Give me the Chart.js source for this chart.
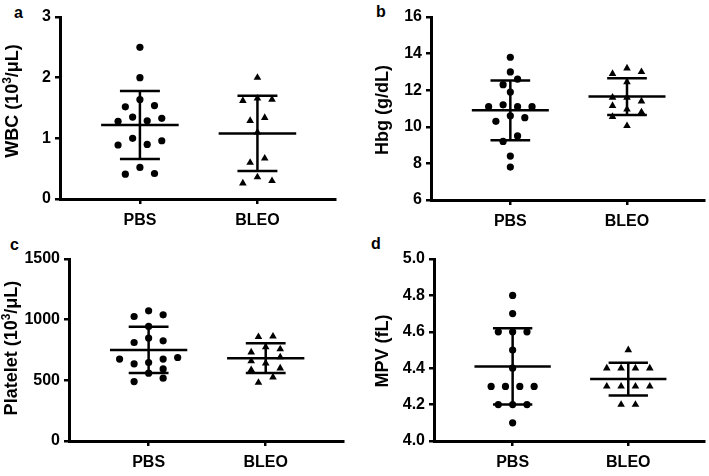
<!DOCTYPE html>
<html>
<head>
<meta charset="utf-8">
<script src="https://cdn.jsdelivr.net/npm/chart.js@4/dist/chart.umd.min.js"></script>
<style>
  html, body { margin: 0; padding: 0; background: #fff; }
  body { width: 709px; height: 476px; position: relative; overflow: hidden; font-family: "Liberation Sans", Arial, sans-serif; }
  .panel { position: absolute; }
  .lbl { position: absolute; font-weight: bold; font-size: 16px; line-height: 16px; color: #000; }
  .ytitle { position: absolute; font-weight: bold; font-size: 18px; line-height: 20px; color: #000; white-space: nowrap;
            transform: translate(-50%, -50%) rotate(-90deg); }
  .ytitle sup { font-size: 12px; line-height: 0; vertical-align: 0.55em; }
</style>
</head>
<body>
<div class="lbl" style="left:14px;top:5px">a</div>
<div class="lbl" style="left:376px;top:4px">b</div>
<div class="lbl" style="left:10px;top:237px">c</div>
<div class="lbl" style="left:371px;top:236px">d</div>
<div class="panel" style="left:0;top:0"><canvas id="ca" width="340" height="233"></canvas></div>
<div class="panel" style="left:354px;top:0"><canvas id="cb" width="355" height="234"></canvas></div>
<div class="panel" style="left:0;top:240px"><canvas id="cc" width="348" height="235"></canvas></div>
<div class="panel" style="left:354px;top:240px"><canvas id="cd" width="355" height="235"></canvas></div>
<div class="ytitle" style="left:12px;top:101px">WBC (10<sup>3</sup>/μL)</div>
<div class="ytitle" style="left:382px;top:110px">Hbg (g/dL)</div>
<div class="ytitle" style="left:11px;top:348px">Platelet (10<sup>3</sup>/μL)</div>
<div class="ytitle" style="left:382px;top:351px">MPV (fL)</div>
<script>
// ---------------- data ----------------
const categories = ['PBS', 'BLEO'];

// a: WBC (10^3/uL)
const wbcTicks = [0, 1, 2, 3];
const wbcPBS  = [2.5, 2.0, 1.64, 1.52, 1.54, 1.28, 1.35, 1.29, 1.33, 1.0, 0.89, 0.9, 0.96, 0.52, 0.41, 0.42];
const wbcBLEO = [2.0, 1.62, 1.66, 1.64, 1.29, 1.34, 1.1, 0.60, 0.67, 0.26, 0.36, 0.30];
const wbcMean = [1.22, 1.08];
const wbcSD   = [0.56, 0.62];

// b: Hbg (g/dL)
const hbgTicks = [6, 8, 10, 12, 14, 16];
const hbgPBS  = [13.8, 13.0, 12.6, 12.3, 11.9, 11.1, 11.2, 11.1, 11.1, 10.6, 10.3, 10.5, 9.5, 9.2, 8.4, 7.8];
const hbgBLEO = [12.9, 13.2, 13.0, 12.45, 11.6, 11.6, 11.15, 11.4, 10.95, 10.55, 10.8, 10.05];
const hbgMean = [10.9, 11.65];
const hbgSD   = [1.63, 1.0];

// c: Platelet (10^3/uL)
const pltTicks = [0, 500, 1000, 1500];
const pltPBS  = [1073, 1026, 1040, 944, 848, 812, 826, 675, 688, 636, 646, 675, 594, 559, 490, 518];
const pltBLEO = [858, 862, 774, 732, 757, 658, 691, 641, 586, 600, 526, 481];
const pltMean = [751, 683];
const pltSD   = [191, 123];

// d: MPV (fL)
const mpvTicks = [4.0, 4.2, 4.4, 4.6, 4.8, 5.0];
const mpvPBS  = [4.8, 4.7, 4.6, 4.6, 4.6, 4.5, 4.4, 4.3, 4.3, 4.3, 4.3, 4.2, 4.2, 4.2, 4.1];
const mpvBLEO = [4.5, 4.4, 4.4, 4.4, 4.4, 4.3, 4.3, 4.3, 4.3, 4.2, 4.2];
const mpvMean = [4.41, 4.34];
const mpvSD   = [0.21, 0.09];

// horizontal scatter column of each dot (dot-plot spreading as in the figure)
const wbcPBSCol  = [0, 0, 0, -2, 2, -3, -1, 1, 3, -1, -3, 1, 3, 0, -2, 2];
const wbcBLEOCol = [0, -2, 0, 2, -1, 1, 0, -1, 1, -2, 0, 2];
const hbgPBSCol  = [0, 0, 1, -1, 0, -3, -1, 1, 3, 0, -2, 2, 1, -1, 0, 0];
const hbgBLEOCol = [-2, 0, 2, 0, -2, 0, -2, 2, 0, -2, 2, 0];
const pltPBSCol  = [0, -2, 2, 0, 0, -2, 2, -4, 4, -2, 0, 2, 2, 0, -2, 2];
const pltBLEOCol = [-1, 1, 0, -2, 2, -2, 2, 0, -2, 2, 1, -1];
const mpvPBSCol  = [0, 0, -2, 0, 2, 0, 0, -3, -1, 1, 3, -2, 0, 2, 0];
const mpvBLEOCol = [0, -3, -1, 1, 3, -3, -1, 1, 3, -1, 1];

// ---------------- drawing ----------------
const FONT = '"Liberation Sans", Arial, sans-serif';
const SLOT = 0.062, MEAN_HALF = 0.33, CAP_HALF = 0.17;

function seg(x1, y1, x2, y2) {
  return { type: 'scatter', showLine: true, data: [{x: x1, y: y1}, {x: x2, y: y2}],
           borderColor: '#000', borderWidth: 2.5, pointRadius: 0, pointHoverRadius: 0, fill: false, order: 1 };
}

function build(id, p) {
  const ds = [];
  [p.pbs, p.bleo].forEach((vals, g) => {
    const cols = g === 0 ? p.pbsCol : p.bleoCol;
    ds.push({ type: 'scatter', order: 0,
      data: vals.map((v, i) => ({ x: g + 1 + cols[i] * SLOT, y: v })),
      pointStyle: g === 0 ? 'circle' : 'triangle', pointRadius: g === 0 ? 3.6 : 4.4,
      backgroundColor: '#000', borderColor: '#000', borderWidth: 0 });
    const m = p.mean[g], s = p.sd[g], c = g + 1;
    ds.push(seg(c - MEAN_HALF, m, c + MEAN_HALF, m));
    ds.push(seg(c - CAP_HALF, m + s, c + CAP_HALF, m + s));
    ds.push(seg(c - CAP_HALF, m - s, c + CAP_HALF, m - s));
    ds.push(seg(c, m - s, c, m + s));
  });
  const tickFont = { family: FONT, size: 16, weight: 'bold' };
  const grid = { display: true, drawOnChartArea: false, drawTicks: true, tickLength: 5, color: '#000', lineWidth: 2.5 };
  const border = { display: true, color: '#000', width: 3 };
  new Chart(document.getElementById(id), {
    type: 'scatter',
    data: { datasets: ds },
    options: {
      responsive: false, animation: false, devicePixelRatio: 1,
      layout: { padding: { top: p.padTop, right: p.padRight, bottom: 0, left: 0 } },
      plugins: { legend: { display: false }, tooltip: { enabled: false } },
      scales: {
        x: { type: 'linear', min: 0.32, max: 2.66,
             afterBuildTicks: s => { s.ticks = categories.map((c, i) => ({ value: i + 1 })); },
             afterFit: s => { s.height = 34; },
             ticks: { callback: v => categories[Math.round(v) - 1], color: '#000', font: tickFont, padding: 7, maxRotation: 0, autoSkip: false },
             grid: grid, border: border },
        y: { type: 'linear', min: p.ticks[0], max: p.ticks[p.ticks.length - 1],
             afterBuildTicks: s => { s.ticks = p.ticks.map(v => ({ value: v })); },
             afterFit: s => { s.width = p.yW; },
             ticks: { callback: v => p.fmt(v), color: '#000', font: tickFont, padding: 4, autoSkip: false },
             title: { display: false },
             grid: grid, border: border }
      }
    }
  });
}

build('ca', { pbs: wbcPBS, bleo: wbcBLEO, pbsCol: wbcPBSCol, bleoCol: wbcBLEOCol, mean: wbcMean, sd: wbcSD,
  ticks: wbcTicks, fmt: v => String(v), yW: 60, padTop: 17, padRight: 5 });
build('cb', { pbs: hbgPBS, bleo: hbgBLEO, pbsCol: hbgPBSCol, bleoCol: hbgBLEOCol, mean: hbgMean, sd: hbgSD,
  ticks: hbgTicks, fmt: v => String(v), yW: 77, padTop: 17, padRight: 5 });
build('cc', { pbs: pltPBS, bleo: pltBLEO, pbsCol: pltPBSCol, bleoCol: pltBLEOCol, mean: pltMean, sd: pltSD,
  ticks: pltTicks, fmt: v => String(v), yW: 69, padTop: 19, padRight: 5 });
build('cd', { pbs: mpvPBS, bleo: mpvBLEO, pbsCol: mpvPBSCol, bleoCol: mpvBLEOCol, mean: mpvMean, sd: mpvSD,
  ticks: mpvTicks, fmt: v => Number(v).toFixed(1), yW: 80, padTop: 19, padRight: 2 });
</script>
</body>
</html>
